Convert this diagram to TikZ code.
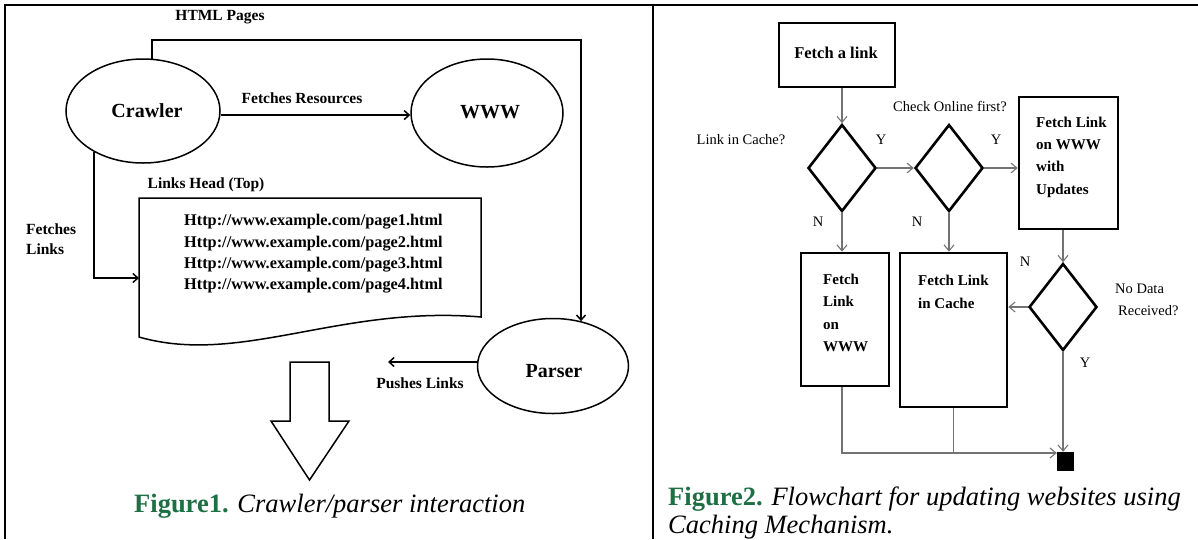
\documentclass[tikz,border=0pt]{standalone}
\usepackage{fontspec}
\setmainfont{Liberation Serif}
\usetikzlibrary{shapes.geometric,arrows.meta}
\definecolor{figgreen}{RGB}{30,112,68}
\tikzset{
  lbl/.style={font=\fontsize{15.5}{18}\selectfont\bfseries, inner sep=0},
  oval/.style={ellipse, draw, line width=1.5pt, inner sep=0, font=\fontsize{20}{24}\selectfont\bfseries},
  bigtxt/.style={font=\fontsize{20}{24}\selectfont\bfseries, inner sep=0},
  larr/.style={line width=1.5pt, -{Straight Barb[length=5pt,width=9pt]}},
  lline/.style={line width=1.5pt},
  box/.style={draw, line width=2.6pt, inner sep=0, rectangle},
  dia/.style={diamond, draw, line width=2.6pt, minimum width=68pt, minimum height=87pt, inner sep=0},
  garr/.style={draw=black!55, line width=1.1pt, -{Straight Barb[length=6pt,width=10pt]}},
  gline/.style={draw=black!55, line width=1.1pt},
  btxt/.style={font=\fontsize{15}{22.3}\selectfont\bfseries, align=left, inner sep=0},
  rtxt/.style={font=\fontsize{14.5}{17}\selectfont, inner sep=0},
  captxt/.style={font=\fontsize{26.5}{28}\selectfont, inner sep=0},
}
\begin{document}
\begin{tikzpicture}[x=1pt,y=-1pt]
\useasboundingbox (0,0) rectangle (1198,539);

% frame
\draw[line width=2.5pt] (5,539) -- (5,5) -- (1198,5);
\draw[line width=2.5pt] (653,5) -- (653,539);

% ---------- crawler / parser ----------
\node[oval, minimum width=154pt, minimum height=104pt] (crawler) at (143,111) {\hspace*{8pt}Crawler};
\node[oval, minimum width=152pt, minimum height=108pt] (www) at (487,113) {};
\node[bigtxt] (wwwtxt) at (490,112) {WWW};
\node[oval, minimum width=151pt, minimum height=95pt] (parser) at (553,366) {};
\node[bigtxt] (parsertxt) at (554,371) {Parser};

\coordinate (htmlrow) at (0,40);
\coordinate (docin) at (139,278);
\coordinate (pushend) at (388,0);

\node[lbl] (htmllbl) at (220,17) {HTML Pages};
\node[lbl] (reslbl) at (302,98) {Fetches Resources};
\node[lbl] (headlbl) at (206,185) {Links Head (Top)};
\node[lbl, align=left, anchor=west, font=\fontsize{15.5}{20}\selectfont\bfseries] (fetchlbl) at (26,239) {Fetches\\Links};
\node[lbl] (pushlbl) at (420,383) {Pushes Links};

\draw[larr] (crawler.80) |- (htmlrow -| parser.58) -- (parser.58);
\draw[larr] (crawler.-3) -- (crawler.-3 -| www.west);
\draw[larr] (crawler.-140) |- (docin);
\draw[larr] (parser.177) -- (pushend |- parser.177);

% links document
\draw[lline] (139,198) -- (481,198) -- (481,317)
  .. controls (340,305) and (240,366) .. (139,337) -- cycle;
\node[font=\fontsize{16.3}{21.4}\selectfont\bfseries, align=left, inner sep=0, anchor=west] (urls) at (184,254)
  {Http://www.example.com/page1.html\\Http://www.example.com/page2.html\\Http://www.example.com/page3.html\\Http://www.example.com/page4.html};

% block arrow
\draw[lline, line join=miter] (290,362) -- (329,362) -- (329,421) -- (349,421) -- (309.5,480)
  -- (271,421) -- (290,421) -- cycle;

\node[captxt, anchor=base west] (cap1) at (134,512)
  {\textcolor{figgreen}{\bfseries Figure1.} \itshape Crawler/parser interaction};

% ---------- caching flowchart ----------
\node[box, minimum width=116pt, minimum height=64pt] (fetch) at (837,55) {};
\node[btxt, font=\fontsize{16.5}{20}\selectfont\bfseries] (fetchtxt) at (836,53) {Fetch a link};

\node[dia] (d1) at (842,168) {};
\node[dia] (d2) at (949,168) {};
\node[dia] (d3) at (1063,307) {};

\node[box, minimum width=99pt, minimum height=132pt] (upd) at (1068.5,163) {};
\node[btxt, anchor=west] (updtxt) at (1036,157) {Fetch Link\\on WWW\\with\\Updates};

\node[box, minimum width=88pt, minimum height=133pt] (wwwbox) at (845,319.5) {};
\node[btxt, anchor=west] (wwwboxtxt) at (823,313) {Fetch\\Link\\on\\WWW};

\node[box, minimum width=107pt, minimum height=154pt] (cachebox) at (953.5,330) {};
\node[btxt, anchor=west] (cachetxt) at (918,292) {Fetch Link\\in Cache};

\node[draw, fill=black, minimum width=16pt, minimum height=18pt, inner sep=0] (endsq) at (1065,461) {};

\node[rtxt] (q1) at (741,140) {Link in Cache?};
\node[rtxt] (q2) at (950,106) {Check Online first?};
\node[rtxt, align=left, anchor=west, font=\fontsize{14.5}{22}\selectfont] (q3) at (1115,300) {No Data\\\hspace*{3pt}Received?};
\node[rtxt] (y1) at (881,140) {Y};
\node[rtxt] (y2) at (996,140) {Y};
\node[rtxt] (y3) at (1085,363) {Y};
\node[rtxt] (n1) at (818,222) {N};
\node[rtxt] (n2) at (917,222) {N};
\node[rtxt] (n3) at (1025,262) {N};

\coordinate (joinrow) at (0,453);

\draw[garr] (fetch.south -| d1.north) -- (d1.north);
\draw[garr] (d1.east) -- (d2.west);
\draw[garr] (d2.east) -- (upd.west |- d2.east);
\draw[garr] (d1.south) -- (d1.south |- wwwbox.north);
\draw[garr] (d2.south) -- (d2.south |- cachebox.north);
\draw[garr] (upd.south -| d3.north) -- (d3.north);
\draw[garr] (d3.west) -- (d3.west -| cachebox.east);
\draw[garr] (d3.south) -- (d3.south |- endsq.north);
\draw[garr] (d1.south |- wwwbox.south) |- (joinrow -| endsq.west);
\draw[gline] (cachebox.south) -- (cachebox.south |- joinrow);

\node[captxt, anchor=base west] (cap2) at (668,505)
  {\textcolor{figgreen}{\bfseries Figure2.} \itshape Flowchart for updating websites using};
\node[captxt, anchor=base west, font=\fontsize{26.5}{28}\selectfont\itshape] (cap2b) at (668,533)
  {Caching Mechanism.};
\end{tikzpicture}
\end{document}
